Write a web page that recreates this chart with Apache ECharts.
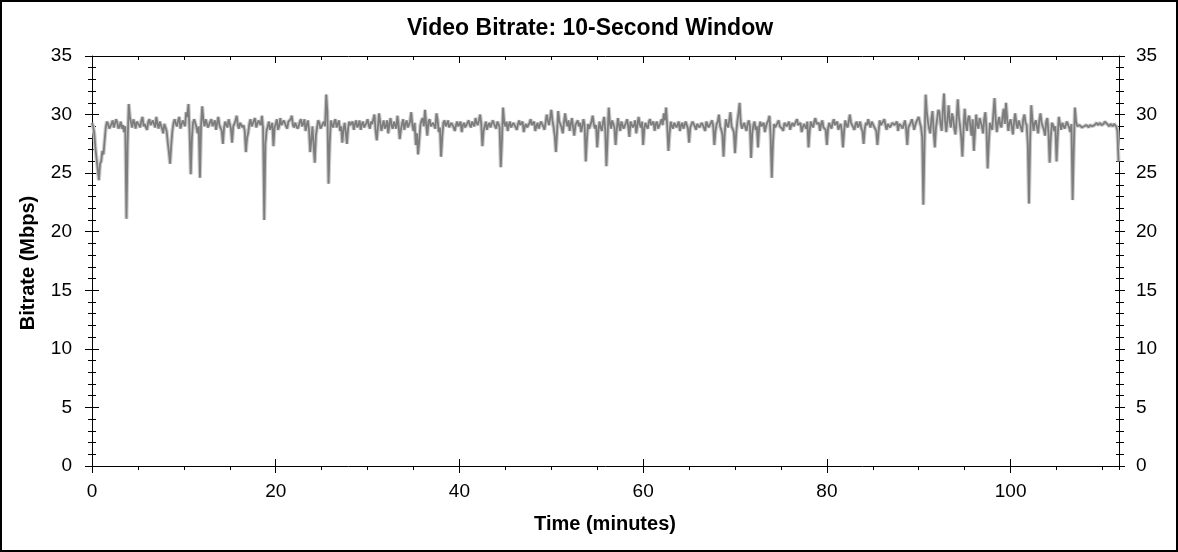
<!DOCTYPE html>
<html>
<head>
<meta charset="utf-8">
<script src="https://cdn.jsdelivr.net/npm/echarts@6/dist/echarts.min.js"></script>
<style>
html,body{margin:0;padding:0;background:#fff;}
#chart{width:1178px;height:552px;}
</style>
</head>
<body>
<div id="chart"></div>
<script>
// ---- data (Mbps) ----
const titleText = 'Video Bitrate: 10-Second Window';
const xName = 'Time (minutes)';
const yName = 'Bitrate (Mbps)';
const sampleStepMin = 0.25;   // on-grid samples at k*0.25 min
const midOffsetMin = 0.125;   // in-between samples at k*0.25+0.125 min
const xMax = 111.8;
const yMax = 35;
const xMajorStep = 20, xMinorStep = 5;
const yMajorStep = 5, yMinorStep = 1;

// on-grid samples
const rate00 = [29.3,28.4,26.2,24.4, 26.0,26.6,28.9,29.2, 28.7,29.5,28.9,29.3, 29.0,28.8,28.5,21.1, 30.9,29.3,29.6,28.8,
                29.5,28.9,29.8,29.2, 28.7,29.6,29.0,29.4, 29.8,28.8,29.3,28.4, 29.1,27.6,25.8,28.6, 29.6,29.0,29.8,28.9];
const rate10 = [29.4,30.2,30.9,24.9, 29.3,29.6,28.4,24.6, 30.7,29.0,29.5,28.8, 29.6,29.1,28.7,29.8, 29.0,27.5,29.4,28.9,
                29.6,27.6,29.2,29.9, 28.8,29.4,29.1,26.8, 28.4,29.6,29.2,29.7, 28.9,29.3,29.9,21.0, 28.6,29.4,29.0,27.3];
const rate20 = [29.2,28.7,29.7,29.1, 29.5,28.8,29.3,29.9, 28.9,29.4,29.0,29.6, 29.2,28.6,29.5,26.8, 29.0,25.9,28.9,29.3,
                28.7,29.4,31.7,24.1, 29.5,28.9,29.6,29.2, 28.6,27.6,29.3,27.5, 29.4,29.0,28.7,29.5, 29.1,28.7,29.4,28.9];
const rate30 = [29.6,28.8,29.2,30.0, 27.8,30.1,28.6,29.5, 29.0,28.4,29.7,28.8, 29.3,29.9,27.9,29.2, 28.7,29.5,29.0,30.2,
                28.6,27.4,26.6,29.1, 29.7,30.4,28.2,29.6, 28.9,29.4,30.1,28.5, 26.4,29.3,29.0,29.5, 28.8,29.2,28.6,29.4];
const rate40 = [29.0,28.5,29.3,28.8, 29.5,28.9,29.2,29.7, 29.1,30.0,27.3,29.0, 28.7,29.3,28.9,29.4, 28.8,29.2,25.5,30.6,
                29.0,28.6,29.4,28.9, 29.3,28.7,29.5,29.0, 28.5,29.2,28.8,29.6, 29.1,28.6,29.3,28.9, 29.4,28.7,30.0,29.1];
const rate50 = [30.4,28.9,26.8,30.3, 29.5,28.4,30.1,29.0, 28.6,29.7,28.2,29.3, 29.0,28.5,29.6,26.0, 29.2,28.7,29.9,28.8,
                27.2,29.4,28.6,29.8, 25.6,30.6,28.8,29.4, 27.4,29.7,28.6,29.3, 28.8,29.6,28.1,29.5, 29.1,28.4,29.8,28.9];
const rate60 = [27.4,29.3,28.8,29.6, 29.0,28.6,29.4,28.9, 29.6,30.1,30.6,26.9, 29.4,28.8,29.2,29.0, 28.6,29.3,28.9,29.5,
                27.6,29.0,29.4,28.7, 29.2,28.8,29.1,28.6, 29.3,28.9,29.5,27.4, 29.2,30.0,28.7,26.4, 29.6,28.9,30.2,29.0];
const rate70 = [26.7,29.4,31.0,28.8, 29.3,28.6,29.5,26.3, 29.1,28.7,27.2,29.4, 29.0,28.5,29.3,29.9, 24.6,29.2,28.8,29.5,
                29.1,28.6,29.4,29.0, 28.7,29.3,28.9,29.6, 29.0,28.5,29.2,28.8, 27.2,29.4,28.9,29.7, 29.1,28.6,29.5,29.0];
const rate80 = [27.4,29.3,28.8,29.6, 29.0,28.7,29.2,27.2, 29.5,28.9,30.0,29.2, 28.7,29.4,29.1,28.8, 27.5,29.3,29.6,28.9,
                29.2,28.8,27.4,29.5, 29.0,29.6,28.7,29.3, 28.9,29.4,29.0,28.6, 29.3,28.8,29.5,27.4, 29.1,29.6,28.7,29.4];
const rate90 = [29.8,28.9,22.3,31.7, 29.4,28.4,30.3,27.2, 29.6,30.2,28.6,31.8, 28.5,30.8,28.9,29.7, 28.3,31.3,29.0,26.4,
                30.5,28.6,29.9,28.2, 26.9,30.0,28.8,29.6, 28.4,30.2,25.4,29.3, 28.7,31.4,28.5,29.8, 28.9,30.5,31.0,28.6];
const rate100 = [29.6,28.3,30.1,28.8, 29.4,28.5,30.0,29.1, 22.4,30.8,28.6,29.5, 28.4,30.1,29.0,28.2, 29.7,25.9,29.3,28.6,
                 26.0,29.8,28.7,29.4, 28.9,29.5,28.5,22.7, 30.6,29.0,29.1,28.9, 29.0,29.1,28.9,29.1, 29.0,29.2,29.1,29.3,
                 29.0,29.4,29.2,29.0, 29.1,29.2,29.0,26.0];

// in-between samples
const mid00 = [29.0,27.1,25.3,25.8, 26.9,27.8,29.4,28.8, 29.2,28.9,29.6,28.8, 29.4,29.1,29.0,27.5, 29.8,28.9,29.3,29.4,
               29.1,29.5,29.0,28.9, 29.4,29.1,29.5,28.9, 29.2,29.4,28.8,29.2, 28.6,26.8,27.4,29.3, 29.2,29.5,28.8,29.5];
const mid10 = [29.0,29.8,28.5,28.0, 29.6,28.9,29.0,29.1, 29.5,29.6,28.9,29.4, 29.0,29.5,29.3,29.1, 28.6,28.9,29.1,29.6,
               28.8,29.0,29.5,29.1, 29.3,28.9,28.6,28.0, 29.2,29.0,29.5,28.9, 29.5,29.1,28.8,27.5, 29.0,28.7,29.3,28.9];
const mid20 = [29.6,29.0,29.1,29.5, 29.0,29.4,29.6,29.1, 29.3,28.8,29.4,29.0, 29.6,29.1,28.7,27.8, 27.4,28.2,29.5,28.8,
               29.2,29.0,30.2,27.5, 29.1,29.4,28.9,29.5, 29.0,28.7,28.5,28.8, 29.1,29.4,29.2,28.9, 29.5,29.2,28.9,29.3];
const mid30 = [29.1,29.4,29.6,28.6, 28.9,29.3,29.1,28.8, 29.5,29.2,29.0,29.4, 28.8,29.1,28.7,29.6, 29.2,28.9,29.4,29.1,
               29.3,28.4,27.8,29.5, 29.0,29.2,29.4,29.0, 29.3,28.8,29.5,28.9, 28.1,29.5,29.2,28.9, 29.3,28.9,29.1,29.0];
const mid40 = [29.4,29.1,28.9,29.3, 29.1,29.4,29.0,29.3, 29.5,29.2,28.6,29.4, 29.1,28.9,29.5,29.0, 29.4,28.9,27.8,29.3,
               29.4,29.1,28.9,29.3, 28.9,29.2,29.1,29.4, 29.0,28.9,29.3,29.1, 29.4,29.0,28.8,29.4, 29.0,29.3,29.5,29.7];
const mid50 = [29.5,28.2,28.5,29.4, 28.9,29.3,29.4,29.5, 29.2,28.9,29.1,29.5, 29.3,29.0,29.1,27.9, 28.8,29.4,29.2,29.1,
               28.6,28.9,29.3,28.7, 28.0,29.3,29.5,28.9, 28.7,29.1,29.4,28.8, 29.3,29.0,29.4,28.9, 29.5,29.1,29.2,29.4];
const mid60 = [28.8,29.0,29.4,29.1, 29.4,29.2,28.8,29.3, 29.1,29.5,28.9,28.4, 29.0,29.3,28.9,29.4, 29.1,28.8,29.4,28.8,
               28.9,29.4,29.0,29.2, 28.9,29.3,29.0,29.4, 28.9,29.3,29.0,28.6, 29.4,29.0,28.3,28.4, 29.1,29.5,29.0,28.5];
const mid70 = [28.4,30.1,29.3,29.1, 28.9,29.2,29.0,28.4, 29.4,29.0,28.9,29.0, 29.3,29.0,29.5,28.2, 27.5,28.9,29.3,29.0,
               28.8,29.3,29.0,29.4, 29.1,29.0,29.4,29.1, 29.3,28.9,29.1,29.4, 28.6,29.1,29.4,29.2, 29.3,29.2,28.9,28.7];
const mid80 = [28.8,29.0,29.3,29.1, 29.4,29.0,28.6,28.6, 29.1,29.4,29.3,28.9, 29.2,28.9,29.4,28.6, 28.8,29.1,29.2,29.4,
               29.0,28.6,28.5,29.1, 29.4,29.1,29.2,28.9, 29.3,29.1,29.4,29.2, 29.0,29.2,28.8,28.9, 29.3,29.2,29.1,29.6];
const mid90 = [29.3,28.1,27.5,30.2, 28.8,29.6,28.6,28.9, 30.4,29.2,30.3,29.4, 29.6,29.4,30.1,28.8, 29.6,29.8,28.1,28.7,
               29.2,29.7,29.0,29.6, 28.6,29.1,29.7,29.0, 29.6,28.8,27.6,28.9, 30.1,29.6,29.3,29.1, 29.8,29.2,29.6,29.3];
const mid100 = [29.0,29.4,29.2,29.5, 28.9,29.6,29.3,27.4, 27.8,29.5,29.3,28.9, 29.5,29.3,28.7,29.4, 28.4,28.1,29.1,29.0,
                28.1,29.2,29.3,28.8, 29.4,28.9,29.2,27.0, 29.4,29.1,29.0,29.0, 29.1,29.0,29.1,29.0, 29.1,29.3,29.2,29.1,
                29.2,29.3,29.1,29.2, 29.0,29.1,28.6];

const bitrate = [].concat(rate00, rate10, rate20, rate30, rate40, rate50, rate60, rate70, rate80, rate90, rate100);
const bitrateMid = [].concat(mid00, mid10, mid20, mid30, mid40, mid50, mid60, mid70, mid80, mid90, mid100);
const points = [];
bitrate.forEach((v, i) => {
  points.push([i * sampleStepMin, v]);
  if (i < bitrateMid.length) points.push([i * sampleStepMin + midOffsetMin, bitrateMid[i]]);
});

// ---- styling ----
const FONT = "'Liberation Sans', Arial, sans-serif";
const chart = echarts.init(document.getElementById('chart'), null, {renderer: 'canvas'});

function xAx(position, interval, tick, opts) {
  return Object.assign({
    type: 'value', position: position, min: 0, max: xMax, interval: interval,
    splitLine: {show: false},
    axisLine: {show: false, onZero: false, lineStyle: {color: '#000', width: 1}},
    axisTick: Object.assign({show: true, lineStyle: {color: '#000', width: 1}}, tick),
    axisLabel: {show: false}
  }, opts || {});
}
function yAx(position, interval, tick, opts) {
  return Object.assign({
    type: 'value', position: position, min: 0, max: yMax, interval: interval,
    splitLine: {show: false},
    axisLine: {show: false, onZero: false, lineStyle: {color: '#000', width: 1}},
    axisTick: Object.assign({show: true, lineStyle: {color: '#000', width: 1}}, tick),
    axisLabel: {show: false}
  }, opts || {});
}
const lbl = (margin) => ({show: true, color: '#000', fontSize: 19, fontFamily: FONT, margin: margin, showMaxLabel: false});
const lblY = (margin) => ({show: true, color: '#000', fontSize: 19, fontFamily: FONT, margin: margin});
const line = {show: true, onZero: false, lineStyle: {color: '#000', width: 1}};

const option = {
  animation: false,
  backgroundColor: '#fff',
  grid: {left: 92, right: 59, top: 56, bottom: 86, containLabel: false},
  xAxis: [
    xAx('bottom', xMajorStep, {inside: false, length: 7}, {axisLine: line, axisLabel: lbl(16)}),
    xAx('bottom', xMajorStep, {inside: true, length: 7}),
    xAx('bottom', xMinorStep, {inside: false, length: 4}),
    xAx('top', xMajorStep, {inside: true, length: 7}, {axisLine: line}),
    xAx('top', xMinorStep, {inside: true, length: 4})
  ],
  yAxis: [
    yAx('left', yMajorStep, {inside: false, length: 7}, {axisLine: line, axisLabel: lblY(20)}),
    yAx('left', yMajorStep, {inside: true, length: 7}),
    yAx('left', yMinorStep, {inside: false, length: 4}),
    yAx('left', yMinorStep, {inside: true, length: 4}),
    yAx('right', yMajorStep, {inside: false, length: 6}, {axisLine: line, axisLabel: lblY(17)}),
    yAx('right', yMajorStep, {inside: true, length: 4}),
    yAx('right', yMinorStep, {inside: false, length: 5}),
    yAx('right', yMinorStep, {inside: true, length: 3})
  ],
  series: [
    {
      type: 'line', xAxisIndex: 0, yAxisIndex: 0, data: points,
      showSymbol: false, symbol: 'none', silent: true, sampling: null,
      lineStyle: {color: '#cccccc', width: 4}
    },
    {
      type: 'line', xAxisIndex: 0, yAxisIndex: 0, data: points,
      showSymbol: false, symbol: 'none', silent: true, sampling: null,
      lineStyle: {color: '#7d7d7d', width: 1.8}
    }
  ],
  graphic: [
    {type: 'rect', silent: true, shape: {x: 1, y: 1, width: 1176, height: 550},
     style: {fill: null, stroke: '#000', lineWidth: 2}},
    {type: 'text', x: 590, y: 29, silent: true,
     style: {text: titleText, font: "bold 23px " + FONT, fill: '#000', textAlign: 'center', textVerticalAlign: 'middle'}},
    {type: 'text', x: 605, y: 524, silent: true,
     style: {text: xName, font: "bold 20px " + FONT, fill: '#000', textAlign: 'center', textVerticalAlign: 'middle'}},
    {type: 'text', x: 28, y: 263, rotation: Math.PI / 2, silent: true,
     style: {text: yName, font: "bold 20px " + FONT, fill: '#000', textAlign: 'center', textVerticalAlign: 'middle'}}
  ]
};
chart.setOption(option);
</script>
</body>
</html>
